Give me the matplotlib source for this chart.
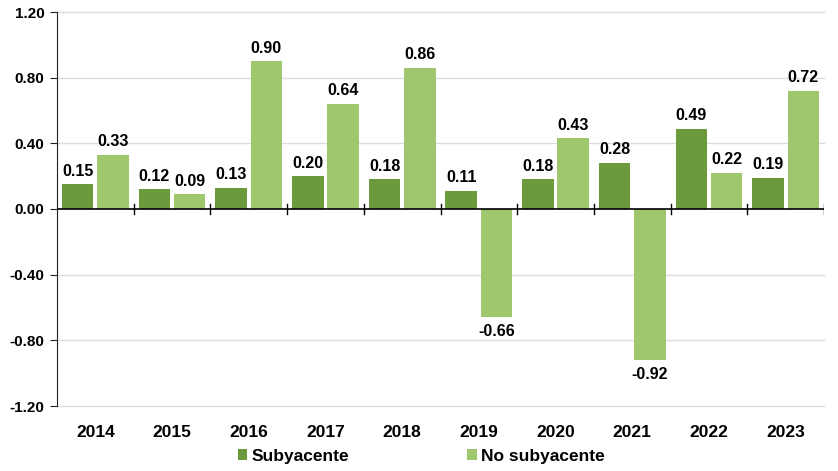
import numpy as np
import matplotlib.pyplot as plt

years = ['2014', '2015', '2016', '2017', '2018', '2019', '2020', '2021', '2022', '2023']
subyacente = [0.15, 0.12, 0.13, 0.20, 0.18, 0.11, 0.18, 0.28, 0.49, 0.19]
no_subyacente = [0.33, 0.09, 0.90, 0.64, 0.86, -0.66, 0.43, -0.92, 0.22, 0.72]

dark = '#6b9a3d'
light = '#9fc86e'

plt.rcParams['font.family'] = ['Liberation Sans', 'DejaVu Sans']
plt.rcParams['font.weight'] = 'bold'

fig = plt.figure(figsize=(8.38, 4.71), dpi=100)
ax = fig.add_axes([57 / 838, 1 - 406 / 471, 767 / 838, 394 / 471])

x = np.arange(len(years))
w = 0.41
b1 = ax.bar(x - 0.23, subyacente, w, color=dark, label='Subyacente', zorder=3)
b2 = ax.bar(x + 0.23, no_subyacente, w, color=light, label='No subyacente', zorder=3)

# value labels
for bars in (b1, b2):
    for r in bars:
        v = r.get_height()
        cx = r.get_x() + r.get_width() / 2
        if v >= 0:
            ax.annotate(f'{v:.2f}', (cx, v), xytext=(0, 4), textcoords='offset points',
                        ha='center', va='bottom', fontsize=11.5, fontweight='bold')
        else:
            ax.annotate(f'{v:.2f}', (cx, v), xytext=(0, -5), textcoords='offset points',
                        ha='center', va='top', fontsize=11.5, fontweight='bold')

ax.set_xlim(-0.5, len(years) - 0.5)
ax.set_ylim(-1.2, 1.2)
yt = np.arange(-1.2, 1.21, 0.4)
ax.set_yticks(yt)
ax.set_yticklabels([f'{t:.2f}' for t in yt], fontsize=11, fontweight='bold')
for t in yt:
    if abs(t) > 1e-9:
        ax.axhline(t, color='#dcdcdc', lw=1, zorder=0, clip_on=False)

for s in ['top', 'right', 'bottom']:
    ax.spines[s].set_visible(False)
ax.spines['left'].set_color('#222222')
ax.tick_params(axis='y', length=5, color='#222222', pad=4)

# zero axis line with boundary ticks
ax.axhline(0, color='black', lw=1.2, zorder=4)
for b in np.arange(0.5, len(years) - 0.4, 1):
    ax.plot([b, b], [-0.03, 0.03], color='black', lw=1, zorder=4)

# year labels below the plot area
ax.set_xticks([])
for i, yr in enumerate(years):
    ax.annotate(yr, (i, -1.2), xytext=(0, -14), textcoords='offset points',
                ha='center', va='top', fontsize=12.5, fontweight='bold', annotation_clip=False)

fig.legend(handles=[b1, b2], labels=['Subyacente', 'No subyacente'], loc='center',
           bbox_to_anchor=(0.503, 1 - 456 / 471), ncol=2, frameon=False,
           handlelength=0.55, handleheight=0.55, handletextpad=0.25,
           columnspacing=6.8, prop={'weight': 'bold', 'size': 12.5})

fig.savefig('out.png', dpi=100)
